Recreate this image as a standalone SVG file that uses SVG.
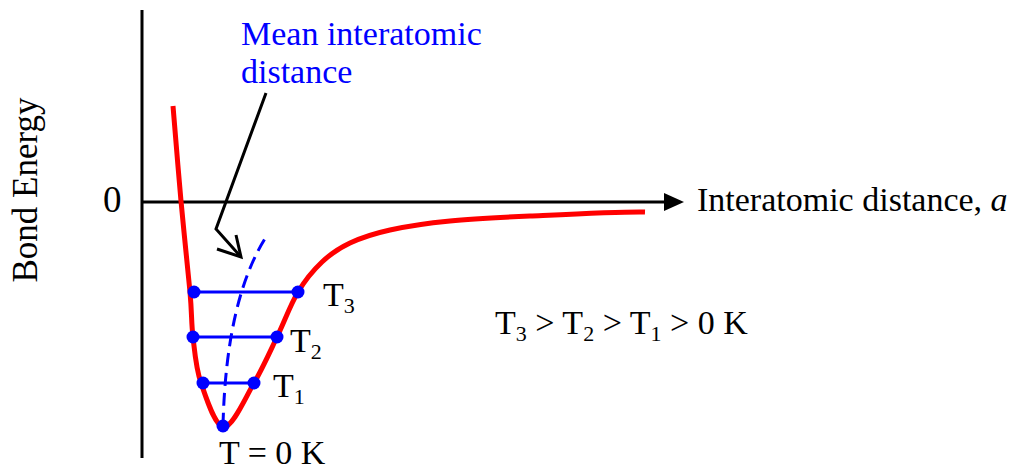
<svg xmlns="http://www.w3.org/2000/svg" width="1011" height="472" viewBox="0 0 1011 472">
<defs>
<style>
text{font-family:"Liberation Serif","Times New Roman",serif;font-size:34px;fill:#000}
.blue{fill:#0000FF}
.sub{font-size:22px}
.axis{stroke:#000;stroke-width:3;fill:none}
.level{stroke:#0000FF;stroke-width:3;fill:none}
.dot{fill:#0000FF}
</style>
<marker id="axhead" viewBox="0 0 20 18" refX="0" refY="9" markerWidth="20" markerHeight="18" markerUnits="userSpaceOnUse" orient="auto">
<path d="M0,0 L20,9 L0,18 Z" fill="#000"/>
</marker>
</defs>
<rect width="1011" height="472" fill="#fff"/>
<g id="axes">
<line class="axis" x1="142" y1="10" x2="142" y2="458"/>
<line class="axis" x1="142" y1="202" x2="664" y2="202" marker-end="url(#axhead)"/>
</g>
<g id="labels">
<text x="103" y="212" style="font-size:37px">0</text>
<text transform="translate(37,190) rotate(-90)" text-anchor="middle" style="font-size:35px">Bond Energy</text>
<text x="697" y="211">Interatomic distance, <tspan font-style="italic">a</tspan></text>
<text class="blue" x="241" y="45">Mean interatomic</text>
<text class="blue" x="241" y="83">distance</text>
<text x="495" y="334">T<tspan class="sub" dy="7">3</tspan><tspan dy="-7"> &gt; T</tspan><tspan class="sub" dy="7">2</tspan><tspan dy="-7"> &gt; T</tspan><tspan class="sub" dy="7">1</tspan><tspan dy="-7"> &gt; 0 K</tspan></text>
</g>
<g id="curve">
<path d="M173,106 C174.3,121.8 178.2,170 181,201 C183.8,232 188,269.3 190,292 C192,314.7 191.2,321.8 193,337 C194.8,352.2 195.8,368 201,383 C206.2,398 215.2,427 224,427 C232.8,427 245.2,398 254,383 C262.8,368 269.7,352.2 277,337 C284.3,321.8 290.5,304.5 298,292 C305.5,279.5 313.3,270.2 322,262 C330.7,253.8 338.7,248.3 350,243 C361.3,237.7 373.3,233.7 390,230 C406.7,226.3 426.7,223.3 450,221 C473.3,218.7 497.5,217.5 530,216 C562.5,214.5 625.8,211.3 645,212" fill="none" stroke="#FF0000" stroke-width="5"/>
</g>
<g id="mean-line">
<path d="M223,426 Q226,300 266,237" fill="none" stroke="#0000FF" stroke-width="3" stroke-dasharray="13 7"/>
</g>
<g id="level-T3">
<line class="level" x1="194" y1="292" x2="298" y2="292"/>
<circle class="dot" cx="194" cy="292" r="6.5"/>
<circle class="dot" cx="298" cy="292" r="6.5"/>
<text x="323" y="306">T<tspan class="sub" dy="7">3</tspan></text>
</g>
<g id="level-T2">
<line class="level" x1="193" y1="337" x2="277" y2="337"/>
<circle class="dot" cx="193" cy="337" r="6.5"/>
<circle class="dot" cx="277" cy="337" r="6.5"/>
<text x="290" y="352">T<tspan class="sub" dy="7">2</tspan></text>
</g>
<g id="level-T1">
<line class="level" x1="203" y1="383" x2="254" y2="383"/>
<circle class="dot" cx="203" cy="383" r="6.5"/>
<circle class="dot" cx="254" cy="383" r="6.5"/>
<text x="273" y="397">T<tspan class="sub" dy="7">1</tspan></text>
</g>
<g id="level-T0">
<circle class="dot" cx="223" cy="426" r="6.5"/>
<text x="219" y="464">T = 0 K</text>
</g>
<g id="connectors">
<polyline points="266,93 216,229 241,257" fill="none" stroke="#000" stroke-width="3" stroke-linejoin="miter"/>
<polyline points="236,235 241,257 217,249" fill="none" stroke="#000" stroke-width="3"/>
</g>
</svg>
